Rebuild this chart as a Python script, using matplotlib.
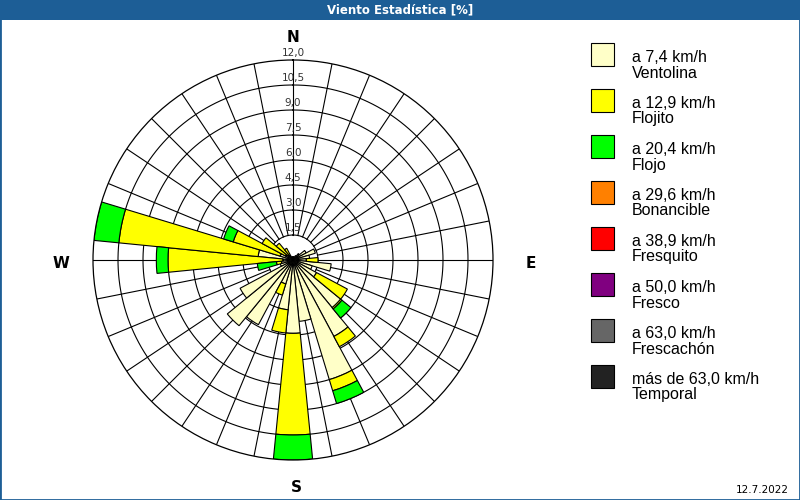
import numpy as np
import matplotlib.pyplot as plt
from matplotlib.patches import Rectangle

plt.rc('font', family='Liberation Sans')

# DATA - 32 directions (every 11.25 deg), frequency in % per speed class
directions = np.arange(32) * 11.25
ventolina = [0.2, 0.2, 0.2, 0.3, 0.5, 0.9, 1.4, 1.0,
             0.8, 2.3, 1.2, 1.6, 3.7, 5.2, 7.5, 3.7,
             4.4, 3.0, 1.5, 4.4, 5.1, 3.6, 0.8, 0.7,
             0.6, 2.1, 0.8, 0.5, 0.4, 0.3, 0.2, 0.2]
flojito = [0, 0, 0, 0, 0, 0, 0, 0,
           0.7, 0, 0, 2.1, 0.1, 0.7, 0.7, 0,
           6.1, 1.4, 0.7, 0, 0, 0, 0, 0.3,
           6.9, 8.4, 2.95, 1.6, 0.9, 0.5, 0, 0]
flojo = [0, 0, 0, 0, 0, 0, 0, 0,
         0, 0, 0, 0, 0.7, 0, 0.8, 0,
         1.5, 0, 0, 0, 0, 0, 0, 1.15,
         0.7, 1.5, 0.6, 0, 0, 0, 0, 0]

ring_values = [1.5, 3.0, 4.5, 6.0, 7.5, 9.0, 10.5, 12.0]
ring_labels = ['1,5', '3,0', '4,5', '6,0', '7,5', '9,0', '10,5', '12,0']

classes = ['a 7,4 km/h', 'a 12,9 km/h', 'a 20,4 km/h', 'a 29,6 km/h',
           'a 38,9 km/h', 'a 50,0 km/h', 'a 63,0 km/h', 'más de 63,0 km/h']
names = ['Ventolina', 'Flojito', 'Flojo', 'Bonancible',
         'Fresquito', 'Fresco', 'Frescachón', 'Temporal']
colors = ['#ffffc8', '#ffff00', '#00ff00', '#ff8000',
          '#ff0000', '#800080', '#666666', '#222222']

W, H = 800, 500
fig = plt.figure(figsize=(8, 5), dpi=100)
fig.patch.set_facecolor('white')

# title bar and frame
fig.patches.append(Rectangle((0, 1 - 20 / H), 1, 20 / H, transform=fig.transFigure,
                             facecolor='#1d5e96', edgecolor='none', zorder=0))
fig.patches.append(Rectangle((0, 0), 1, 1, transform=fig.transFigure,
                             fill=False, edgecolor='#1d5e96', lw=2, zorder=5))
fig.text(0.5, 1 - 10 / H, 'Viento Estadística [%]', color='white', fontsize=8.5,
         fontweight='bold', ha='center', va='center', family='DejaVu Sans')

# polar axes: center (293,260) px, radius 200 px
ax = fig.add_axes([93 / W, 40 / H, 400 / W, 400 / H], projection='polar')
ax.set_theta_zero_location('N')
ax.set_theta_direction(-1)
ax.set_ylim(0, 12)
ax.grid(False)
ax.set_xticks([])
ax.set_yticks([])
ax.spines['polar'].set_linewidth(0.9)

theta = np.deg2rad(directions)
full = np.linspace(0, 2 * np.pi, 400)
for r in ring_values[:-1]:
    ax.plot(full, np.full_like(full, r), color='black', lw=0.8, zorder=1)
for t in theta:
    ax.plot([t, t], [1.5, 12], color='black', lw=0.8, zorder=1)

bottom = np.zeros(32)
for vals, col in zip([ventolina, flojito, flojo], colors[:3]):
    vals = np.array(vals, dtype=float)
    m = vals > 0
    ax.bar(theta[m], vals[m], width=2 * np.pi / 32, bottom=bottom[m], color=col,
           edgecolor='black', lw=0.8, zorder=2)
    bottom += vals

for r, lab in zip(ring_values, ring_labels):
    ax.text(0, r + 0.1, lab, ha='center', va='bottom', fontsize=7.5,
            color='#333333', zorder=3, family='DejaVu Sans')

# compass letters
for lab, x, y in [('N', 293, 38), ('S', 296, 488), ('W', 61, 264), ('E', 531, 264)]:
    fig.text(x / W, 1 - y / H, lab, fontsize=11, fontweight='bold',
             ha='center', va='center', family='DejaVu Sans')

# legend
for i in range(8):
    top = 43 + 46 * i
    fig.patches.append(Rectangle((591 / W, 1 - (top + 23) / H), 23 / W, 23 / H,
                                 transform=fig.transFigure, facecolor=colors[i],
                                 edgecolor='black', lw=0.8))
    fig.text(632 / W, 1 - (top + 14) / H, classes[i], fontsize=11.5, va='center')
    fig.text(632 / W, 1 - (top + 30) / H, names[i], fontsize=11.5, va='center')

fig.text(789 / W, 1 - 490 / H, '12.7.2022', fontsize=7.5, ha='right', va='center',
         family='DejaVu Sans')

fig.savefig('out.png', dpi=100)
